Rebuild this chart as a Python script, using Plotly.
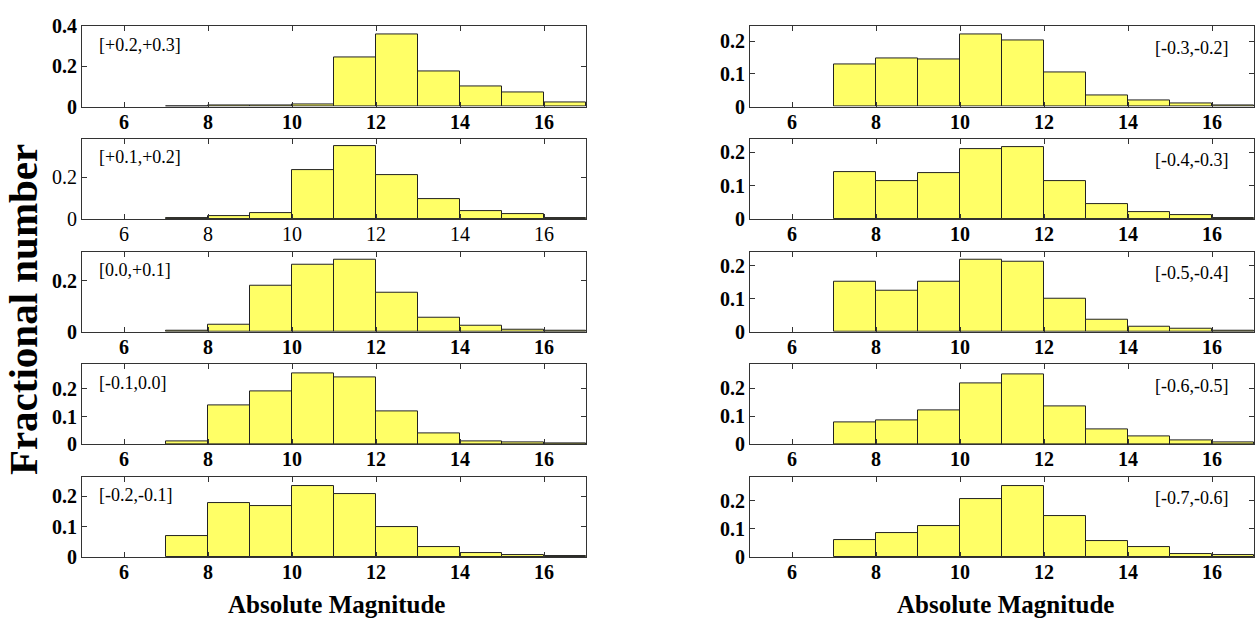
import plotly.graph_objects as go
from plotly.subplots import make_subplots

# Magnitude bins (lower edges 7..16, width 1)
bin_centers = [7.5, 8.5, 9.5, 10.5, 11.5, 12.5, 13.5, 14.5, 15.5, 16.5]

# Colour-bin labels, left column then right column
left_labels = ["[+0.2,+0.3]", "[+0.1,+0.2]", "[0.0,+0.1]", "[-0.1,0.0]", "[-0.2,-0.1]"]
right_labels = ["[-0.3,-0.2]", "[-0.4,-0.3]", "[-0.5,-0.4]", "[-0.6,-0.5]", "[-0.7,-0.6]"]

# Fractional number per magnitude bin
frac_p02_p03 = [0.0, 0.003, 0.003, 0.008, 0.246, 0.360, 0.177, 0.099, 0.068, 0.019]
frac_p01_p02 = [0.005, 0.014, 0.029, 0.234, 0.345, 0.209, 0.097, 0.038, 0.025, 0.006]
frac_00_p01 = [0.005, 0.027, 0.182, 0.263, 0.284, 0.154, 0.056, 0.022, 0.010, 0.004]
frac_m01_00 = [0.011, 0.139, 0.189, 0.253, 0.239, 0.120, 0.039, 0.012, 0.008, 0.003]
frac_m02_m01 = [0.068, 0.178, 0.168, 0.232, 0.208, 0.099, 0.034, 0.014, 0.007, 0.003]
frac_m03_m02 = [0.130, 0.148, 0.144, 0.220, 0.203, 0.104, 0.034, 0.018, 0.008, 0.003]
frac_m04_m03 = [0.142, 0.113, 0.139, 0.209, 0.216, 0.113, 0.044, 0.020, 0.011, 0.004]
frac_m05_m04 = [0.151, 0.125, 0.151, 0.217, 0.213, 0.099, 0.037, 0.014, 0.008, 0.004]
frac_m06_m05 = [0.079, 0.086, 0.120, 0.217, 0.249, 0.134, 0.055, 0.029, 0.014, 0.008]
frac_m07_m06 = [0.061, 0.084, 0.111, 0.207, 0.250, 0.146, 0.057, 0.034, 0.010, 0.006]

left_series = [frac_p02_p03, frac_p01_p02, frac_00_p01, frac_m01_00, frac_m02_m01]
right_series = [frac_m03_m02, frac_m04_m03, frac_m05_m04, frac_m06_m05, frac_m07_m06]

# Upper y limits and y ticks of each panel
left_ymax = [0.40, 0.38, 0.314, 0.287, 0.262]
right_ymax = [0.245, 0.24, 0.242, 0.285, 0.283]
left_yticks = [[0, 0.2, 0.4], [0, 0.2], [0, 0.2], [0, 0.1, 0.2], [0, 0.1, 0.2]]
right_yticks = [[0, 0.1, 0.2]] * 5

x_ticks = [6, 8, 10, 12, 14, 16]

W, H = 1256, 627
SERIF = "Liberation Serif"

fig = make_subplots(rows=5, cols=2)

# Panel geometry in pixels
left_x = (82, 586)
right_x = (750, 1254)
top0, step, ph = 16, 116.75, 83


def fmt(v):
    return "0" if v == 0 else ("%g" % v)


for col, (series, labels, ymaxs, yticks, xr) in enumerate(
    [(left_series, left_labels, left_ymax, left_yticks, left_x),
     (right_series, right_labels, right_ymax, right_yticks, right_x)], start=1):
    for i in range(5):
        row = i + 1
        fig.add_trace(
            go.Bar(x=bin_centers, y=series[i], width=1,
                   marker=dict(color="#FFFF66", line=dict(color="#222222", width=1)),
                   showlegend=False),
            row=row, col=col)
        top = top0 + step * i
        bot = top + ph
        weight = "normal" if (col == 1 and i == 1) else "bold"
        tf = dict(family=SERIF, size=20, color="black", weight=weight)
        fig.update_xaxes(domain=[xr[0] / W, xr[1] / W], range=[5, 17],
                         tickvals=x_ticks, ticktext=[str(t) for t in x_ticks],
                         ticks="inside", ticklen=5, tickcolor="#333",
                         showline=True, linecolor="#333", linewidth=1, mirror="ticks",
                         showgrid=False, zeroline=False, tickfont=tf,
                         ticklabelstandoff=-3,
                         row=row, col=col)
        fig.update_yaxes(domain=[1 - bot / H, 1 - top / H], range=[0, ymaxs[i]],
                         tickvals=yticks[i], ticktext=[fmt(v) for v in yticks[i]],
                         ticks="inside", ticklen=5, tickcolor="#333",
                         showline=True, linecolor="#333", linewidth=1, mirror="ticks",
                         showgrid=False, zeroline=False, tickfont=tf,
                         row=row, col=col)
        n = (i * 2) + col
        suffix = "" if n == 1 else str(n)
        if col == 1:
            fig.add_annotation(text=labels[i], xref=f"x{suffix} domain", yref=f"y{suffix} domain",
                               x=15 / 504, y=1 - 19 / ph, xanchor="left", yanchor="middle",
                               showarrow=False, font=dict(family=SERIF, size=18, color="black"))
        else:
            fig.add_annotation(text=labels[i], xref=f"x{suffix} domain", yref=f"y{suffix} domain",
                               x=1 - 24 / 504, y=1 - 22 / ph, xanchor="right", yanchor="middle",
                               showarrow=False, font=dict(family=SERIF, size=18, color="black"))

# Axis titles
fig.add_annotation(text="<b>Fractional number</b>", xref="paper", yref="paper",
                   x=23 / W, y=1 - 310 / H, textangle=-90, showarrow=False,
                   xanchor="center", yanchor="middle",
                   font=dict(family=SERIF, size=41, color="black"))
for cx in (336, 1005):
    fig.add_annotation(text="<b>Absolute Magnitude</b>", xref="paper", yref="paper",
                       x=cx / W, y=1 - 615 / H, showarrow=False,
                       xanchor="center", yanchor="middle",
                       font=dict(family=SERIF, size=25, color="black"))

fig.update_layout(width=W, height=H, margin=dict(l=0, r=0, t=0, b=0),
                  paper_bgcolor="white", plot_bgcolor="white", bargap=0)

fig.write_html("out.html")
